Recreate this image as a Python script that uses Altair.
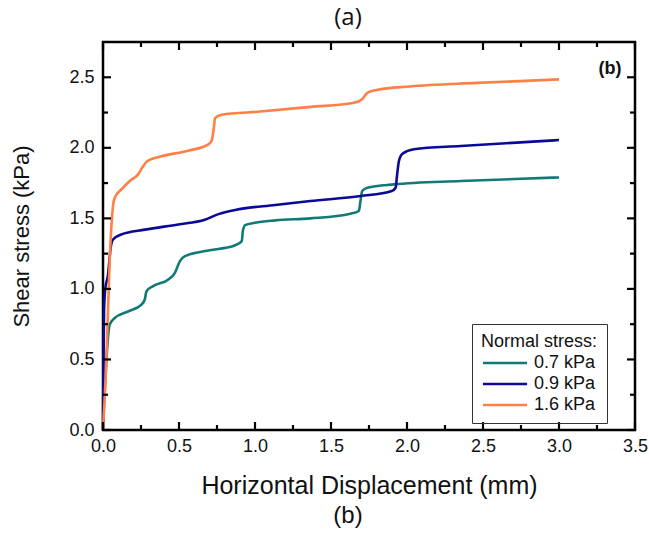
import altair as alt
import pandas as pd

# ---- data ----
x_07 = [0, 0.005, 0.015, 0.029, 0.044, 0.077, 0.165, 0.253, 0.275, 0.286, 0.33, 0.43, 0.473, 0.506, 0.539,
        0.671, 0.87, 0.913, 0.92, 0.935, 1.0, 1.133, 1.364, 1.628, 1.683, 1.694, 1.705, 1.739, 1.914, 2.354, 3.0]
y_07 = [0, 0.15, 0.35, 0.605, 0.747, 0.794, 0.84, 0.889, 0.925, 0.984, 1.02, 1.067, 1.114, 1.197, 1.232,
        1.268, 1.31, 1.339, 1.41, 1.452, 1.469, 1.486, 1.50, 1.533, 1.552, 1.623, 1.694, 1.717, 1.741, 1.765, 1.79]

x_09 = [0, 0.003, 0.007, 0.015, 0.033, 0.05, 0.066, 0.12, 0.275, 0.495, 0.67, 0.76, 0.87, 1.133, 1.364,
        1.695, 1.90, 1.925, 1.935, 1.947, 1.97, 2.046, 2.354, 3.0]
y_09 = [0, 0.45, 0.85, 1.0, 1.10, 1.29, 1.35, 1.386, 1.42, 1.457, 1.49, 1.53, 1.56, 1.595, 1.623,
        1.658, 1.694, 1.717, 1.81, 1.907, 1.958, 1.99, 2.013, 2.055]

x_16 = [0, 0.022, 0.044, 0.066, 0.077, 0.121, 0.176, 0.231, 0.264, 0.297, 0.385, 0.561, 0.693, 0.715, 0.73,
        0.737, 0.78, 1.034, 1.364, 1.65, 1.705, 1.739, 1.80, 2.02, 2.46, 3.0]
y_16 = [0, 0.49, 1.2, 1.59, 1.646, 1.705, 1.765, 1.812, 1.87, 1.91, 1.94, 1.98, 2.025, 2.05, 2.15,
        2.21, 2.235, 2.257, 2.29, 2.32, 2.345, 2.39, 2.41, 2.435, 2.46, 2.485]

series_names = ["0.7 kPa", "0.9 kPa", "1.6 kPa"]
series_colors = ["#127A76", "#0A0A96", "#FF7F45"]

x_major = [0, 0.5, 1.0, 1.5, 2.0, 2.5, 3.0, 3.5]
x_minor = [0.25, 0.75, 1.25, 1.75, 2.25, 2.75, 3.25]
y_major = [0, 0.5, 1.0, 1.5, 2.0, 2.5]
y_minor = [0.25, 0.75, 1.25, 1.75, 2.25]

W, H = 532, 388
MAJ, MIN = 8, 5

rows = []
for name, xs, ys in zip(series_names, [x_07, x_09, x_16], [y_07, y_09, y_16]):
    for i, (a, b) in enumerate(zip(xs, ys)):
        rows.append({"x": a, "y": b, "s": name, "o": i})
df = pd.DataFrame(rows)

xsc = alt.Scale(domain=[0, 3.5], nice=False, zero=False)
ysc = alt.Scale(domain=[0, 2.75], nice=False, zero=False)

FONT = "Liberation Sans"

xaxis_main = alt.Axis(orient="bottom", title="Horizontal Displacement (mm)", values=x_major, format=".1f",
                      grid=False, domain=False, ticks=False,
                      labelPadding=7, labelFlush=False,
                      labelFont=FONT, labelFontSize=18, labelColor="#111",
                      titleFont=FONT, titleFontSize=25, titleFontWeight="normal",
                      titleColor="#111", titlePadding=18)
yaxis_main = alt.Axis(orient="left", title="Shear stress (kPa)", values=y_major, format=".1f",
                      grid=False, domain=False, ticks=False,
                      labelPadding=9, labelFlush=False,
                      labelFont=FONT, labelFontSize=18, labelColor="#111",
                      titleFont=FONT, titleFontSize=22, titleFontWeight="normal",
                      titleColor="#111", titlePadding=35)

lines = alt.Chart(df).mark_line(strokeWidth=2.6, interpolate="monotone").encode(
    x=alt.X("x:Q", scale=xsc, axis=xaxis_main),
    y=alt.Y("y:Q", scale=ysc, axis=yaxis_main),
    color=alt.Color("s:N", scale=alt.Scale(domain=series_names, range=series_colors),
                    legend=alt.Legend(title="Normal stress:", orient="none", legendX=369, legendY=282,
                                      symbolType="M-3,0H3", symbolSize=216, symbolStrokeWidth=2.6,
                                      symbolOffset=15, labelOffset=20,
                                      labelFont=FONT, labelFontSize=18, labelColor="#111",
                                      titleFont=FONT, titleFontSize=18, titleFontWeight="normal",
                                      titleColor="#111", strokeColor="#333", padding=9,
                                      rowPadding=3, titlePadding=3)),
    order="o:Q",
)


def xrule(vals, y0, y1):
    return alt.Chart(pd.DataFrame({"tx": vals})).mark_rule(color="black", strokeWidth=2.2).encode(
        x=alt.X("tx:Q", scale=xsc, axis=None), y=alt.value(y0), y2=alt.value(y1))


def yrule(vals, x0, x1):
    return alt.Chart(pd.DataFrame({"ty": vals})).mark_rule(color="black", strokeWidth=2.2).encode(
        y=alt.Y("ty:Q", scale=ysc, axis=None), x=alt.value(x0), x2=alt.value(x1))


ticks = [
    xrule(x_major, H, H - MAJ), xrule(x_minor, H, H - MIN),
    xrule(x_major, 0, MAJ), xrule(x_minor, 0, MIN),
    yrule(y_major, 0, MAJ), yrule(y_minor, 0, MIN),
    yrule(y_major, W, W - MAJ), yrule(y_minor, W, W - MIN),
]

cap_a = alt.Chart(pd.DataFrame({"t": ["(a)"]})).mark_text(
    font="Open Sans", fontSize=24, color="#111", align="center", baseline="middle").encode(
    text="t:N", x=alt.value(245), y=alt.value(-24))
cap_b = alt.Chart(pd.DataFrame({"t": ["(b)"]})).mark_text(
    font="Liberation Sans", fontSize=24, color="#111", align="center", baseline="middle").encode(
    text="t:N", x=alt.value(245), y=alt.value(474))
tag_b = alt.Chart(pd.DataFrame({"t": ["(b)"]})).mark_text(
    font=FONT, fontSize=18, fontWeight="bold", color="#111", align="center", baseline="middle").encode(
    text="t:N", x=alt.value(507), y=alt.value(27))

chart = alt.layer(lines, *ticks, cap_a, cap_b, tag_b).resolve_axis(
    x="independent", y="independent"
).properties(
    width=W, height=H,
    autosize=alt.AutoSizeParams(type="none"),
    padding={"left": 103, "top": 42, "right": 14, "bottom": 103},
).configure_view(stroke="black", strokeWidth=2.5)

chart.save("out.html", embed_options={"renderer": "svg", "actions": False})
